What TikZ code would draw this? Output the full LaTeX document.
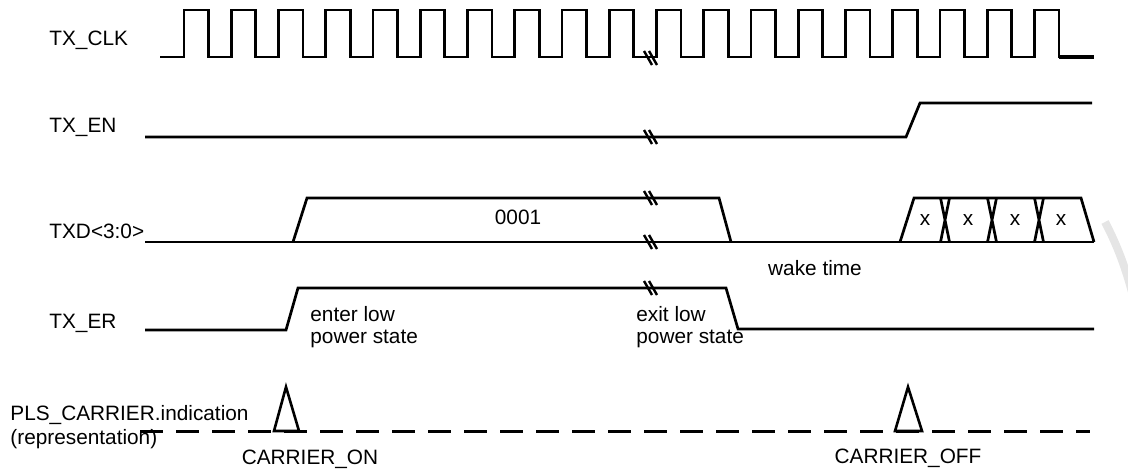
\documentclass[tikz,border=0pt]{standalone}
\usepackage{fontspec}
\setmainfont{Liberation Sans}
\usepackage{tikz}
\usetikzlibrary{positioning}
\tikzstyle{signal} = [line width=1.35pt, black, line join=miter]
\tikzstyle{brk} = [line width=1.2pt, black]
\tikzstyle{sigtext} = [inner sep=0pt, text=black, font=\fontsize{10.4}{11}\selectfont]
\tikzstyle{carrier} = [line width=1.5pt, black, dash pattern=on 11.5pt off 6.5pt]
\tikzstyle{pulse} = [line width=1.3pt, black, fill=white, line join=miter]
\newcommand{\breakmark}[2]{\draw[brk] ({#1-6},{#2-7}) -- ({#1+2},{#2+7}) ({#1-1},{#2-7}) -- ({#1+7},{#2+7});}

\begin{document}
\begin{tikzpicture}[x=0.5pt, y=-0.5pt]
    \useasboundingbox (0,0) rectangle (1128,470);

    % signal names
    \node (lblclk) [sigtext, anchor=base west] at (49,46) {TX\_CLK};
    \node (lblen) [sigtext, anchor=base west] at (49,133) {TX\_EN};
    \node (lbltxd) [sigtext, anchor=base west] at (49,238) {TXD<3:0>};
    \node (lbler) [sigtext, anchor=base west] at (49,328) {TX\_ER};
    \node (lblpls) [sigtext, anchor=north west, align=left, font=\fontsize{10.4}{12}\selectfont] at (10,405) {PLS\_CARRIER.indication\\(representation)};

    % TX_CLK
    \draw[signal] (160,57) \foreach \k in {0,...,18} {
        -- ({184+47.25*\k},57) -- ({184+47.25*\k},10) -- ({208.5+47.25*\k},10) -- ({208.5+47.25*\k},57)
    } -- (1094,57);
    \draw[line width=1.9pt] (1059,57) -- (1094,57);

    % TX_EN
    \draw[signal] (145,137) -- (906,137) -- (920,103) -- (1092,103);

    % TXD<3:0>
    \draw[signal] (145,242) -- (1094,242);
    \draw[signal] (293,242) -- (307,198) -- (719,198) -- (731,242);
    \draw[signal] (900,242) -- (914,198) -- (1081,198) -- (1094,242);
    \foreach \c in {945,992,1039} {
        \draw[signal] (\c-4.5,198) -- (\c+4.5,242) (\c+4.5,198) -- (\c-4.5,242);
    }
    \node (val0001) [sigtext, anchor=base] at (518,225) {0001};
    \node (xa) [sigtext, anchor=base] at (925,226) {x};
    \node (xb) [sigtext, anchor=base] at (968,226) {x};
    \node (xc) [sigtext, anchor=base] at (1015,226) {x};
    \node (xd) [sigtext, anchor=base] at (1061,226) {x};
    \node (wake) [sigtext, anchor=base] at (815,275) {wake time};

    % TX_ER
    \draw[signal] (145,330) -- (286,330) -- (298,288) -- (726,288) -- (738,329) -- (1094,329);
    \node (enter) [sigtext, anchor=north west, align=left] at (310,306) {enter low\\power state};
    \node (exit) [sigtext, anchor=north west, align=left] at (636,306) {exit low\\power state};

    % breaks
    \breakmark{650}{58}
    \breakmark{650}{137}
    \breakmark{650}{198}
    \breakmark{650}{242}
    \breakmark{650}{288}

    % PLS_CARRIER.indication
    \draw[carrier] (140,431) -- (1090,431);
    \draw[pulse] (274,431) -- (286,387) -- (299,431) -- cycle;
    \draw[pulse] (895,431) -- (908,387) -- (922,431) -- cycle;
    \node (con) [sigtext, anchor=base] at (310,464) {CARRIER\_ON};
    \node (coff) [sigtext, anchor=base] at (908,463) {CARRIER\_OFF};

    % watermark
    \draw[gray!20, line width=4pt] (1105,222) .. controls (1117,245) and (1126,268) .. (1134,300);

\end{tikzpicture}
\end{document}
